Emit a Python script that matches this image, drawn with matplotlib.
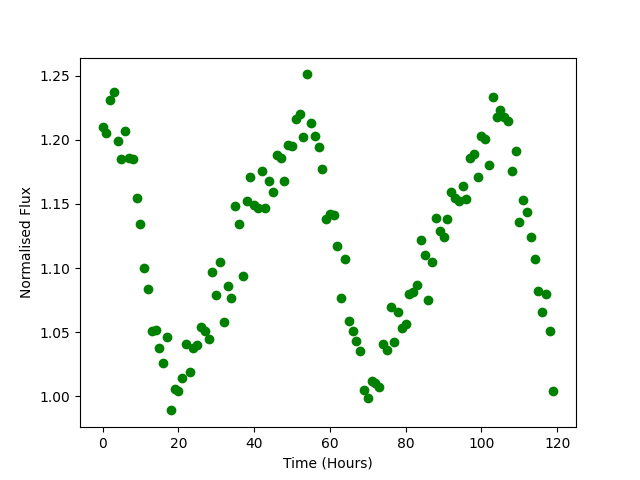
import numpy as np
import matplotlib
matplotlib.use('Agg')
import matplotlib.pyplot as plt

# hourly flux readings
time_hours = list(range(120))
flux = [1.210, 1.205, 1.231, 1.237, 1.199, 1.185, 1.207, 1.186, 1.185, 1.155,
        1.134, 1.100, 1.084, 1.051, 1.052, 1.038, 1.026, 1.046, 0.989, 1.006,
        1.004, 1.014, 1.041, 1.019, 1.038, 1.040, 1.054, 1.051, 1.045, 1.097,
        1.079, 1.105, 1.058, 1.086, 1.077, 1.148, 1.134, 1.094, 1.152, 1.171,
        1.149, 1.147, 1.176, 1.147, 1.168, 1.159, 1.188, 1.186, 1.168, 1.196,
        1.195, 1.216, 1.220, 1.202, 1.251, 1.213, 1.203, 1.194, 1.177, 1.138,
        1.142, 1.141, 1.117, 1.077, 1.107, 1.059, 1.051, 1.043, 1.035, 1.005,
        0.999, 1.012, 1.010, 1.007, 1.041, 1.036, 1.070, 1.042, 1.066, 1.053,
        1.056, 1.080, 1.081, 1.087, 1.122, 1.110, 1.075, 1.105, 1.139, 1.129,
        1.124, 1.138, 1.159, 1.155, 1.152, 1.164, 1.154, 1.186, 1.189, 1.171,
        1.203, 1.201, 1.180, 1.233, 1.218, 1.223, 1.218, 1.215, 1.176, 1.191,
        1.136, 1.153, 1.144, 1.124, 1.107, 1.082, 1.066, 1.080, 1.051, 1.004]

plt.figure(figsize=(6.4, 4.8), dpi=100)
plt.plot(time_hours, flux, 'o', color='green')
plt.xlabel('Time (Hours)')
plt.ylabel('Normalised Flux')
plt.savefig('out.png')
